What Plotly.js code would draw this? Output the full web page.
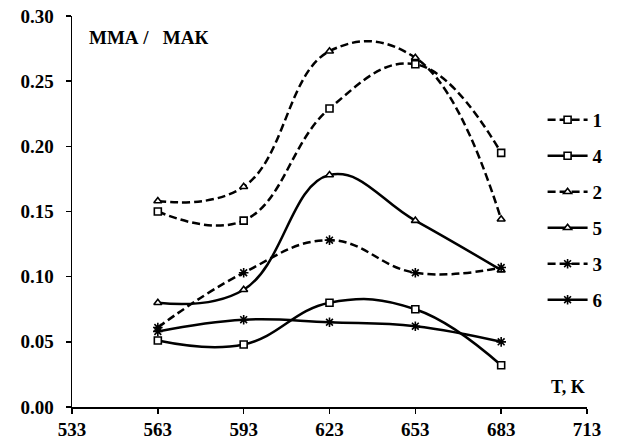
<!DOCTYPE html>
<html>
<head>
<meta charset="utf-8">
<script src="https://cdn.plot.ly/plotly-3.0.1.min.js"></script>
<style>html,body{margin:0;padding:0;background:#fff;}#chart{width:619px;height:439px;}</style>
</head>
<body>
<div id="chart"></div>
<script>
const temperatures = [563, 593, 623, 653, 683];
const seriesNames = ["1", "4", "2", "5", "3", "6"];
const s1 = [0.150, 0.143, 0.229, 0.263, 0.195];
const s4 = [0.051, 0.048, 0.080, 0.075, 0.032];
const s2 = [0.158, 0.169, 0.273, 0.268, 0.144];
const s5 = [0.080, 0.090, 0.178, 0.143, 0.105];
const s3 = [0.061, 0.103, 0.128, 0.103, 0.107];
const s6 = [0.058, 0.067, 0.065, 0.062, 0.050];
const xTicks = [533, 563, 593, 623, 653, 683, 713];
const yTicks = [0.00, 0.05, 0.10, 0.15, 0.20, 0.25, 0.30];
const yLabel = "ММА /   МАК";
const xLabel = "T, K";

const values = [s1, s4, s2, s5, s3, s6];
const dashes = ["8px,4px", "solid", "8px,4px", "solid", "8px,4px", "solid"];
const symbols = ["square", "square", "triangle-up", "triangle-up", "asterisk-open", "asterisk-open"];

const traces = values.map((v, i) => ({
  x: temperatures, y: v, name: seriesNames[i], legendgroup: "g" + i,
  type: "scatter", mode: "lines+markers",
  line: {color: "#000", width: 2.5, dash: dashes[i], shape: "spline", smoothing: 1.2},
  marker: {symbol: symbols[i], size: symbols[i] === "asterisk-open" ? 8 : 7,
           color: symbols[i] === "asterisk-open" ? "#000" : "#fff",
           line: {color: "#000", width: 1.6}},
  cliponaxis: false
}));

const font = {family: "Liberation Serif, Times New Roman, serif", color: "#000", size: 19, weight: "bold"};

const layout = {
  width: 619, height: 439,
  margin: {l: 72, r: 31, t: 16, b: 32},
  paper_bgcolor: "#fff", plot_bgcolor: "#fff",
  font: font,
  showlegend: true,
  legend: {x: 0.912, xanchor: "left", y: 0.783, yanchor: "top",
           traceorder: "grouped", tracegroupgap: 8.3, itemwidth: 40,
           font: {family: font.family, size: 19, weight: "bold", color: "#000"},
           bgcolor: "rgba(0,0,0,0)"},
  xaxis: {range: [533, 713], tickvals: xTicks, ticktext: xTicks.map(String),
          showline: true, linecolor: "#000", linewidth: 1.5, ticks: "outside", ticklen: 5,
          tickcolor: "#000", tickwidth: 1.5, showgrid: false, zeroline: false,
          tickfont: {family: font.family, size: 19, weight: "bold", color: "#000"}, fixedrange: true},
  yaxis: {range: [0, 0.30], tickvals: yTicks, ticktext: yTicks.map(v => v.toFixed(2)),
          showline: true, linecolor: "#000", linewidth: 1.5, ticks: "outside", ticklen: 5,
          tickcolor: "#000", tickwidth: 1.5, showgrid: false, zeroline: false,
          ticklabelstandoff: 8,
          tickfont: {family: font.family, size: 19, weight: "bold", color: "#000"}, fixedrange: true},
  annotations: [
    {text: yLabel, xref: "paper", yref: "paper", x: 0.03, y: 0.945, xanchor: "left", yanchor: "middle",
     showarrow: false, font: {family: font.family, size: 19, weight: "bold", color: "#000"}},
    {text: xLabel, xref: "paper", yref: "paper", x: 1.0, y: 0.05, xanchor: "right", yanchor: "middle",
     showarrow: false, font: {family: font.family, size: 18, weight: "bold", color: "#000"}}
  ]
};

Plotly.newPlot("chart", traces, layout, {displayModeBar: false, staticPlot: true});
</script>
</body>
</html>
